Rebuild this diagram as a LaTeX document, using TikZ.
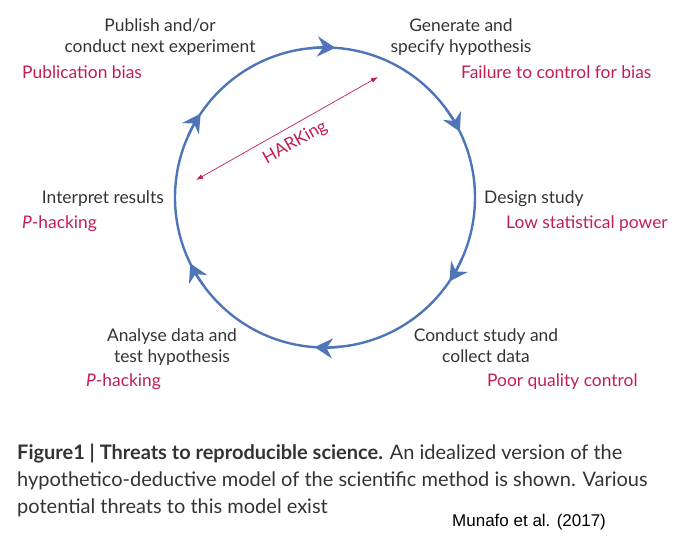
\documentclass[tikz,border=0pt]{standalone}
\usepackage{fontspec}
\setmainfont{Lato}
\newfontfamily\citefont{Liberation Sans}
\usetikzlibrary{arrows.meta, calc}
\definecolor{cycleblue}{RGB}{79,117,184}
\definecolor{threatred}{RGB}{196,30,80}
\definecolor{stagegray}{RGB}{51,51,51}
\tikzset{
  stage/.style={text=stagegray, font=\fontsize{17.4}{21.5}\selectfont, align=center, inner sep=0pt},
  threat/.style={text=threatred, font=\fontsize{17.4}{21.5}\selectfont, inner sep=0pt},
  flow/.style={draw=cycleblue, line width=2.4pt},
}
\begin{document}
\begin{tikzpicture}[x=1pt,y=1pt,>=latex]
  \useasboundingbox (0,0) rectangle (695,553);
  % draw the cycle
  \coordinate (o) at (325,355.5);
  \draw[flow] (o) circle[radius=150];
  \foreach \a in {86,26,-34,-94,-154,-214}
    \draw[flow, -{Stealth[length=18pt,width=20pt,inset=6pt]}]
      ([shift={(\a+10:150)}]o) arc[start angle=\a+10, end angle=\a, radius=150];

  % the stages (base = last line)
  \node[stage, anchor=base] (pub) at (160,500) {Publish and/or\\conduct next experiment};
  \node[stage, anchor=base] (gen) at (461,500) {Generate and\\specify hypothesis};
  \node[stage, anchor=base east] (interp) at (164,349) {Interpret results};
  \node[stage, anchor=base west] (design) at (484,349) {Design study};
  \node[stage, anchor=base] (analyse) at (172,190) {Analyse data and\\test hypothesis};
  \node[stage, anchor=base] (conduct) at (486,190) {Conduct study and\\collect data};

  % the threats
  \node[threat, anchor=base west] (pubbias) at (22,474) {Publication bias};
  \node[threat, anchor=base west] (failbias) at (461,474) {Failure to control for bias};
  \node[threat, anchor=base west] (phack1) at (22,324) {\textit{P}-hacking};
  \node[threat, anchor=base west] (lowpower) at (506,324) {Low statistical power};
  \node[threat, anchor=base west] (phack2) at (86,166) {\textit{P}-hacking};
  \node[threat, anchor=base west] (poorqc) at (487,166) {Poor quality control};

  % HARKing
  \coordinate (h1) at (196,373);
  \coordinate (h2) at (378,476);
  \coordinate (hm) at ($(h1)!0.5!(h2)$);
  \draw[{Latex[length=7pt,width=5pt]}-{Latex[length=7pt,width=5pt]}, threatred, line width=0.7pt]
    (h1) -- (h2);
  \node[threat, rotate=29.5] (hark) at ($(hm)!16.5pt!-90:(h2)$) {HARKing};

  % caption
  \node[anchor=base west, inner sep=0pt, align=left, text=stagegray,
        font=\fontsize{20}{27}\selectfont] (cap) at (17,39)
    {\textbf{Figure1 | Threats to reproducible science.} An idealized version of the\\
     hypothetico-deductive model of the scientific method is shown. Various\\
     potential threats to this model exist};
  \node[anchor=base west, inner sep=0pt, font=\citefont\fontsize{17}{20}\selectfont] (ref) at (452,26)
    {Munafo et al. (2017)};
\end{tikzpicture}
\end{document}
